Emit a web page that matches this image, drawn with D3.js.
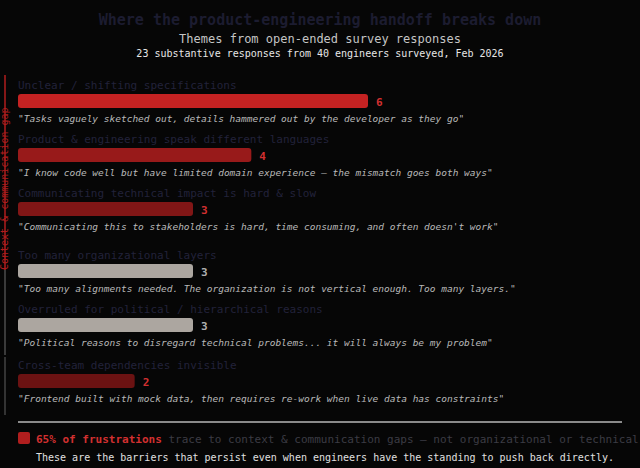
<!DOCTYPE html>
<html>
<head>
<meta charset="utf-8">
<script src="https://cdn.jsdelivr.net/npm/d3@7"></script>
<style>
  html, body { margin: 0; padding: 0; background: #060606; }
  svg { display: block; font-family: "DejaVu Sans Mono", monospace; }
</style>
</head>
<body>
<div id="chartContainer"></div>
<script>
// Handoff frustrations - horizontal bars with a verbatim quote under each theme.

const themes = [
  'Unclear / shifting specifications',
  'Product & engineering speak different languages',
  'Communicating technical impact is hard & slow',
  'Too many organizational layers',
  'Overruled for political / hierarchical reasons',
  'Cross-team dependencies invisible'
];
const counts = [6, 4, 3, 3, 3, 2];
const categories = ['context', 'context', 'context', 'org', 'org', 'context'];
const quotes = [
  '"Tasks vaguely sketched out, details hammered out by the developer as they go"',
  '"I know code well but have limited domain experience \u2014 the mismatch goes both ways"',
  '"Communicating this to stakeholders is hard, time consuming, and often doesn\'t work"',
  '"Too many alignments needed. The organization is not vertical enough. Too many layers."',
  '"Political reasons to disregard technical problems... it will always be my problem"',
  '"Frontend built with mock data, then requires re-work when live data has constraints"'
];
const xTicks = [0, 6];
const totalResponses = 23;

const width = 640;
const height = 468;
const left = 18;

const svg = d3.select('#chartContainer')
  .append('svg')
  .attr('width', width)
  .attr('height', height);

svg.append('rect')
  .attr('width', width)
  .attr('height', height)
  .attr('fill', '#060606');

// titles
svg.append('text')
  .attr('x', width / 2).attr('y', 25)
  .attr('text-anchor', 'middle')
  .attr('font-size', 15).attr('font-weight', 'bold')
  .attr('fill', '#1c1c30')
  .text('Where the product-engineering handoff breaks down');

svg.append('text')
  .attr('x', width / 2).attr('y', 43)
  .attr('text-anchor', 'middle')
  .attr('font-size', 12)
  .attr('fill', '#c4c4c4')
  .text('Themes from open-ended survey responses');

svg.append('text')
  .attr('x', width / 2).attr('y', 57)
  .attr('text-anchor', 'middle')
  .attr('font-size', 10)
  .attr('fill', '#e6e6e6')
  .text('23 substantive responses from 40 engineers surveyed, Feb 2026');

// scales
const x = d3.scaleLinear()
  .domain(d3.extent(xTicks))
  .range([0, 350]);

const shade = d3.scaleLinear()
  .domain([2, 6])
  .range(['#6b1212', '#c42222']);

const barColor = (d, i) => categories[i] === 'org' ? '#aca6a0' : shade(d);
const valueColor = (d, i) => categories[i] === 'org' ? '#b0b0b0' : '#d23030';

// row offsets: a little breathing room where the category changes
const gapAfter = [0, 0, 0, 8, 0, 2];
const rowTop = [];
counts.forEach((d, i) => {
  const prev = i === 0 ? 75 : rowTop[i - 1] + 54;
  rowTop.push(prev + gapAfter[i]);
});

const rows = svg.selectAll('.row')
  .data(counts)
  .enter().append('g')
  .attr('class', 'row')
  .attr('transform', (d, i) => `translate(${left},${rowTop[i]})`);

rows.append('text')
  .attr('x', 0).attr('y', 14)
  .attr('font-size', 11)
  .attr('fill', '#22223a')
  .text((d, i) => themes[i]);

rows.append('rect')
  .attr('x', 0).attr('y', 19)
  .attr('width', d => x(d))
  .attr('height', 14)
  .attr('rx', 3)
  .attr('fill', barColor);

rows.append('text')
  .attr('x', d => x(d) + 8)
  .attr('y', 31)
  .attr('font-size', 11)
  .attr('font-weight', 'bold')
  .attr('fill', valueColor)
  .text(d => d);

rows.append('text')
  .attr('x', 0).attr('y', 47)
  .attr('font-size', 9.5)
  .attr('font-style', 'italic')
  .attr('fill', '#b8b8b8')
  .text((d, i) => quotes[i]);

// category brackets on the left edge
svg.append('text')
  .attr('transform', 'translate(8,270) rotate(-90)')
  .attr('font-size', 10)
  .attr('fill', '#b01e1e')
  .text('Context & communication gap');

svg.append('line')
  .attr('x1', 5).attr('x2', 5)
  .attr('y1', rowTop[0]).attr('y2', 270)
  .attr('stroke', '#b01e1e').attr('stroke-width', 1.5);
svg.append('line')
  .attr('x1', 5).attr('x2', 5)
  .attr('y1', 270).attr('y2', rowTop[5])
  .attr('stroke', '#3a3a3a').attr('stroke-width', 2);
svg.append('line')
  .attr('x1', 5).attr('x2', 5)
  .attr('y1', rowTop[5] + 2).attr('y2', rowTop[5] + 60)
  .attr('stroke', '#333').attr('stroke-width', 2);

// footer
svg.append('line')
  .attr('x1', left).attr('x2', 622)
  .attr('y1', 422).attr('y2', 422)
  .attr('stroke', '#8a8a8a').attr('stroke-width', 2);

svg.append('rect')
  .attr('x', left).attr('y', 432)
  .attr('width', 12).attr('height', 12)
  .attr('rx', 2)
  .attr('fill', '#b01e1e');

const contextTotal = d3.sum(counts.filter((d, i) => categories[i] === 'context'));
const share = Math.round(contextTotal / totalResponses * 100);

const note = svg.append('text')
  .attr('x', 36).attr('y', 443)
  .attr('font-size', 11);
note.append('tspan')
  .attr('font-weight', 'bold')
  .attr('fill', '#d23030')
  .text(`${share}% of frustrations`);
note.append('tspan')
  .attr('fill', '#3c3c44')
  .text(' trace to context & communication gaps \u2014 not organizational or technical');

svg.append('text')
  .attr('x', 36).attr('y', 461)
  .attr('font-size', 10)
  .attr('fill', '#e0e0e0')
  .text('These are the barriers that persist even when engineers have the standing to push back directly.');
</script>
</body>
</html>
